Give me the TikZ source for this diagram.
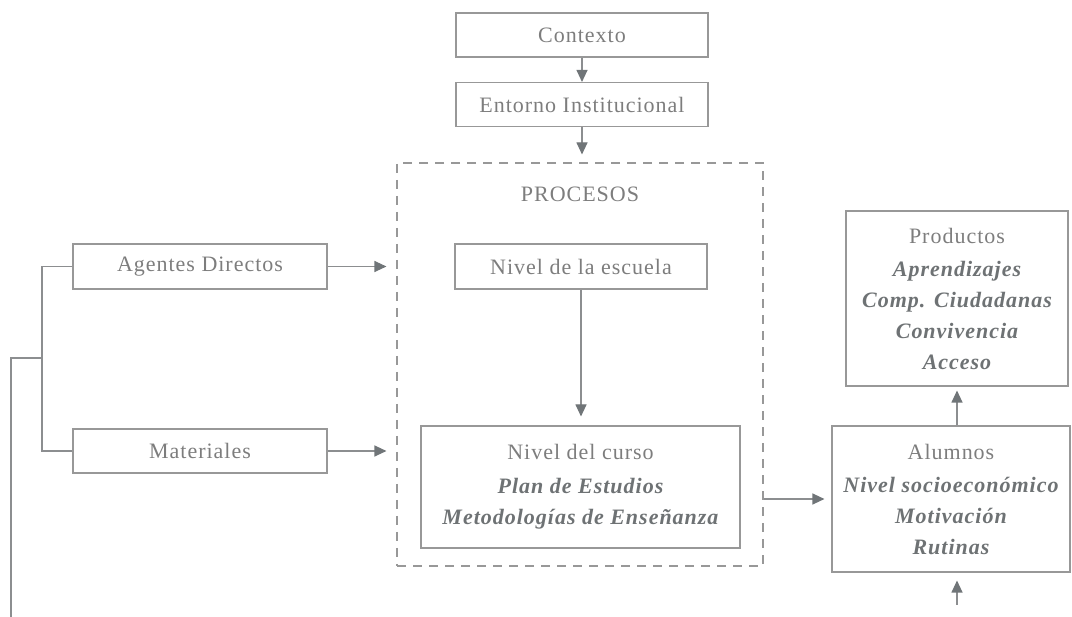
\documentclass[tikz,border=0pt]{standalone}
\usepackage{fontspec}
\setmainfont{Liberation Serif}[LetterSpace=4.5]
\usetikzlibrary{arrows.meta}
\definecolor{boxc}{RGB}{152,152,152}
\definecolor{linec}{RGB}{140,142,144}
\definecolor{tipc}{RGB}{112,117,120}
\definecolor{txtc}{RGB}{125,125,125}
\definecolor{itc}{RGB}{110,114,116}
\newcommand\bitx[1]{{\bfseries\itshape\color{itc}#1}}
\begin{document}
\begin{tikzpicture}[x=1pt,y=-1pt,
  box/.style={draw=boxc,line width=1.1pt,inner sep=0pt,align=center,text=txtc,font=\fontsize{22}{31}\selectfont},
  conn/.style={draw=linec,line width=1.1pt},
  arr/.style={conn,-{Triangle[length=12pt,width=11pt,color=tipc]}},
  dbox/.style={draw=boxc,line width=1.1pt,dash pattern=on 9pt off 7pt,inner sep=0pt},
  lbl/.style={text=txtc,font=\fontsize{22}{31}\selectfont,inner sep=0pt}
]
\useasboundingbox (0,0) rectangle (1072,617);

\node[box,minimum width=252pt,minimum height=44pt] (ctx) at (582,35) {Contexto};
\node[box,minimum width=252pt,minimum height=44pt] (ent) at (582,104.5) {Entorno Institucional};
\node[dbox,minimum width=366pt,minimum height=403pt] (proc) at (580,364.5) {};
\node[lbl] (proclbl) at (580,194) {PROCESOS};
\node[box,minimum width=252pt,minimum height=45pt] (esc) at (581,266.5) {Nivel de la escuela};
\node[box,minimum width=319pt,minimum height=122pt] (cur) at (580.5,487) {Nivel del curso\\[3pt] \bitx{Plan de Estudios}\\ \bitx{Metodologías de Enseñanza}};
\node[box,minimum width=254pt,minimum height=45pt] (agd) at (200,266.5) {Agentes Directos};
\node[box,minimum width=254pt,minimum height=44pt] (mat) at (200,451) {Materiales};
\node[box,minimum width=238pt,minimum height=146pt] (alu) at (951,499) {Alumnos\\[2pt] \bitx{Nivel socioeconómico}\\ \bitx{Motivación}\\ \bitx{Rutinas}};
\node[box,minimum width=222pt,minimum height=175pt] (prod) at (957,298.5) {Productos\\[2pt] \bitx{Aprendizajes}\\ \bitx{Comp. Ciudadanas}\\ \bitx{Convivencia}\\ \bitx{Acceso}};

\draw[arr] (ctx.south) -- (ctx.south |- ent.north);
\draw[arr,shorten >=8pt] (ent.south) -- (ent.south |- proc.north);
\draw[arr,shorten >=9pt] (esc.south) -- (esc.south |- cur.north);
\draw[arr,shorten >=10pt] (agd.east) -- (agd.east -| proc.west);
\draw[arr,shorten >=10pt] (mat.east) -- (mat.east -| proc.west);
\draw[arr,shorten >=7pt] (alu.west -| proc.east) -- (alu.west);
\draw[arr,shorten >=4pt] (prod.south |- alu.north) -- (prod.south);
\coordinate (bot) at (957,605);
\draw[arr,shorten >=8pt] (bot) -- (bot |- alu.south);

\coordinate (bx) at (42,358);
\coordinate (bl) at (11,358);
\coordinate (be) at (11,617);
\draw[conn] (agd.west) -- (agd.west -| bx) -- (mat.west -| bx) -- (mat.west);
\draw[conn] (bx) -- (bl) -- (be);
\end{tikzpicture}
\end{document}
